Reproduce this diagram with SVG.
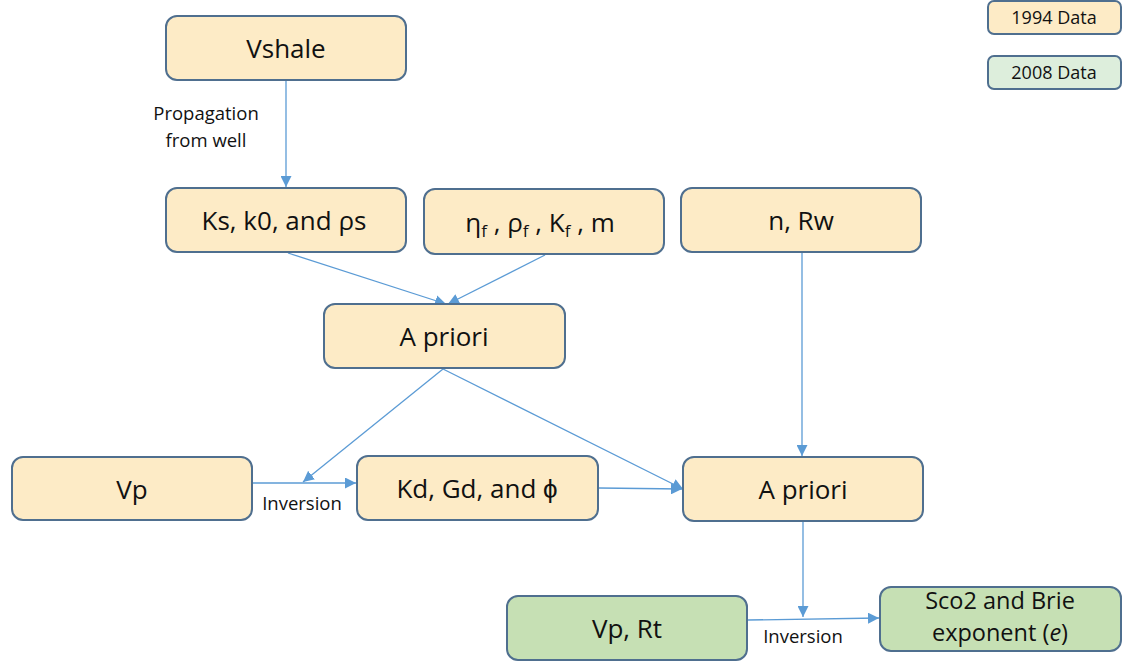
<svg xmlns="http://www.w3.org/2000/svg" width="1126" height="666" viewBox="0 0 1126 666">
<defs>
<style>
.n rect{stroke:#4F6F8F;stroke-width:2}
.y rect{fill:#FDEBC6}
.g rect{fill:#C6E0B4}
.lg rect{fill:#DDEEDC}
text{font-family:"Open Sans","Liberation Sans",sans-serif;fill:#111}
.t{font-size:26px;text-anchor:middle}
.t2{font-size:23.5px;text-anchor:middle}
.s{font-size:18.5px;text-anchor:middle}
.l{font-size:18px;text-anchor:middle}
.c line{stroke:#5B9BD5;stroke-width:1.3;fill:none}
</style>
<marker id="a" viewBox="0 0 10 10" refX="10" refY="5" markerWidth="11" markerHeight="11" markerUnits="userSpaceOnUse" orient="auto">
<path d="M0,0 L10,5 L0,10 z" fill="#5B9BD5"/>
</marker>
</defs>
<rect width="1126" height="666" fill="#fff"/>
<g class="c">
<line x1="286" y1="81" x2="286" y2="187" marker-end="url(#a)"/>
<line x1="288" y1="253" x2="446" y2="304" marker-end="url(#a)"/>
<line x1="545" y1="255" x2="448" y2="304" marker-end="url(#a)"/>
<line x1="443" y1="369" x2="303" y2="482" marker-end="url(#a)"/>
<line x1="443" y1="369" x2="683" y2="489" marker-end="url(#a)"/>
<line x1="253" y1="483" x2="356" y2="483" marker-end="url(#a)"/>
<line x1="599" y1="488" x2="682" y2="489" marker-end="url(#a)"/>
<line x1="802" y1="253" x2="802" y2="456" marker-end="url(#a)"/>
<line x1="803" y1="522" x2="803" y2="617" marker-end="url(#a)"/>
<line x1="748" y1="620" x2="879" y2="618" marker-end="url(#a)"/>
</g>
<text class="s" x="206" y="120">Propagation</text>
<text class="s" x="206" y="147">from well</text>
<text class="s" x="302" y="510">Inversion</text>
<text class="s" x="803" y="643">Inversion</text>
<g id="vshale" class="n y"><rect x="166" y="16" width="240" height="64" rx="11"/><text class="t" x="286" y="58">Vshale</text></g>
<g id="ks" class="n y"><rect x="166" y="188" width="240" height="64" rx="11"/><text class="t" x="284" y="230">Ks, k0, and ρs</text></g>
<g id="fluid" class="n y"><rect x="424" y="189" width="240" height="65" rx="11"/><text class="t" x="540" y="232">η<tspan font-size="17" dy="5">f</tspan><tspan dy="-5"> , ρ</tspan><tspan font-size="17" dy="5">f</tspan><tspan dy="-5"> , K</tspan><tspan font-size="17" dy="5">f</tspan><tspan dy="-5"> , m</tspan></text></g>
<g id="nrw" class="n y"><rect x="681" y="188" width="240" height="64" rx="11"/><text class="t" x="801" y="230">n, Rw</text></g>
<g id="apriori1" class="n y"><rect x="324" y="304" width="241" height="64" rx="11"/><text class="t" x="444" y="346">A priori</text></g>
<g id="vp" class="n y"><rect x="12" y="457" width="240" height="63" rx="11"/><text class="t" x="132" y="499">Vp</text></g>
<g id="kd" class="n y"><rect x="357" y="456" width="241" height="64" rx="11"/><text class="t" x="477" y="498">Kd, Gd, and ϕ</text></g>
<g id="apriori2" class="n y"><rect x="683" y="457" width="240" height="64" rx="11"/><text class="t" x="803" y="499">A priori</text></g>
<g id="vprt" class="n g"><rect x="507" y="596" width="240" height="64" rx="11"/><text class="t" x="627" y="638">Vp, Rt</text></g>
<g id="sco2" class="n g"><rect x="880" y="587" width="241" height="64" rx="11"/><text class="t2" x="1000" y="609">Sco2 and Brie</text><text class="t2" x="1000" y="641">exponent (<tspan font-style="italic">e</tspan>)</text></g>
<g id="leg1994" class="n y"><rect x="988" y="1" width="133" height="33" rx="6"/><text class="l" x="1054" y="24">1994 Data</text></g>
<g id="leg2008" class="n lg"><rect x="988" y="56" width="133" height="33" rx="6"/><text class="l" x="1054" y="79">2008 Data</text></g>
</svg>
